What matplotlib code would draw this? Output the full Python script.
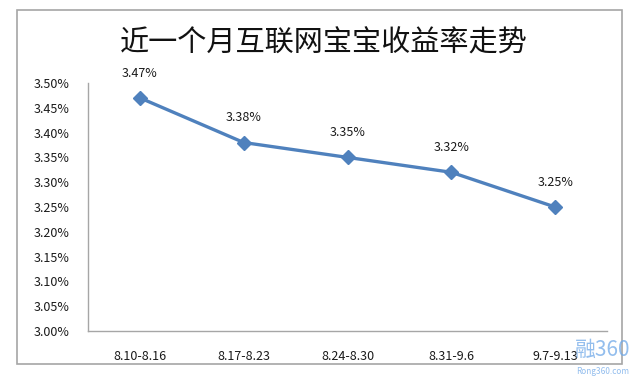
import matplotlib.pyplot as plt
from matplotlib.patches import Rectangle

plt.rcParams['font.family'] = ['Noto Sans CJK SC', 'DejaVu Sans']

weeks = ['8.10-8.16', '8.17-8.23', '8.24-8.30', '8.31-9.6', '9.7-9.13']
rates = [3.47, 3.38, 3.35, 3.32, 3.25]
yticks = [3.00, 3.05, 3.10, 3.15, 3.20, 3.25, 3.30, 3.35, 3.40, 3.45, 3.50]

W, H = 632, 384
fig = plt.figure(figsize=(W / 100, H / 100), dpi=100)
fig.patch.set_facecolor('white')

# outer chart border
fig.patches.append(Rectangle((17 / W, 1 - 364 / H), 605 / W, 354 / H,
                             transform=fig.transFigure, fill=False,
                             edgecolor='#a6a6a6', linewidth=1.2))

ax = fig.add_axes([88 / W, 1 - 331 / H, 519 / W, 248 / H])
x = list(range(len(weeks)))
ax.plot(x, rates, color='#4f81bd', linewidth=2.4, marker='D',
        markersize=7, markerfacecolor='#4f81bd', markeredgecolor='#4f81bd')

for xi, r in zip(x, rates):
    ax.annotate(f'{r:.2f}%', (xi, r), xytext=(0, 13), textcoords='offset points',
                ha='center', va='bottom', fontsize=9, color='#1a1a1a')

ax.set_xlim(-0.5, len(weeks) - 0.5)
ax.set_ylim(3.0, 3.5)
ax.set_yticks(yticks)
ax.set_yticklabels([f'{v:.2f}%' for v in yticks])
ax.set_xticks(x)
ax.set_xticklabels(weeks)
ax.tick_params(axis='both', length=0, labelsize=9, colors='#1a1a1a')
ax.tick_params(axis='y', pad=13)
ax.tick_params(axis='x', pad=14)

for side in ['top', 'right']:
    ax.spines[side].set_visible(False)
for side in ['left', 'bottom']:
    ax.spines[side].set_color('#a6a6a6')
    ax.spines[side].set_linewidth(1.0)

fig.text(324 / W, 1 - 44 / H, '近一个月互联网宝宝收益率走势', ha='center', va='center',
         fontsize=21, color='#111111')

# watermark
fig.text(603 / W, 1 - 350 / H, '融360', ha='center', va='center', fontsize=15,
         color='#6fa8e8', alpha=0.75)
fig.text(603 / W, 1 - 372 / H, 'Rong360.com', ha='center', va='center', fontsize=6,
         color='#6fa8e8', alpha=0.75)

fig.savefig('out.png', dpi=100)
